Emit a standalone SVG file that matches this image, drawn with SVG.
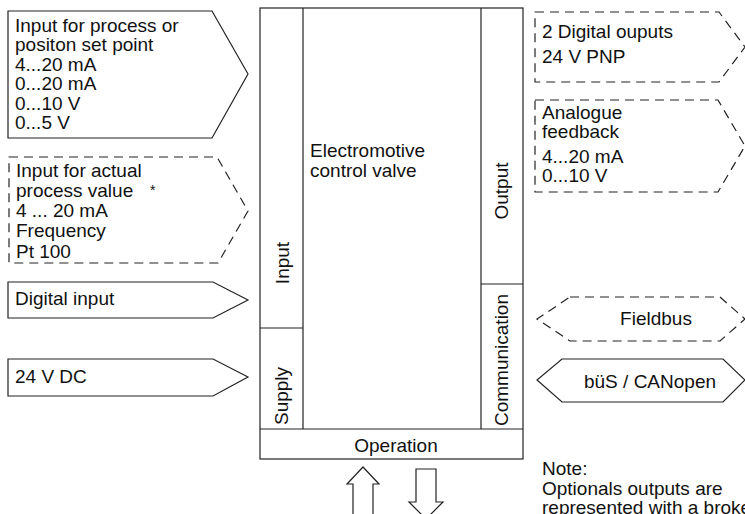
<svg xmlns="http://www.w3.org/2000/svg" width="745" height="514" viewBox="0 0 745 514">
<style>
.s{fill:#fff;stroke:#222;stroke-width:1.2;stroke-linejoin:miter}
.d{fill:none;stroke:#222;stroke-width:1.2;stroke-dasharray:9 6}
.l{fill:none;stroke:#222;stroke-width:1.2}
text{font-family:"Liberation Sans",Arial,sans-serif;font-size:19px;fill:#111}
.m{text-anchor:middle}
</style>
<rect width="745" height="514" fill="#fff"/>
<g id="valve">
<rect class="s" x="260" y="8" width="263" height="451"/>
<line class="l" x1="303" y1="8" x2="303" y2="429"/>
<line class="l" x1="481" y1="8" x2="481" y2="429"/>
<line class="l" x1="260" y1="429" x2="523" y2="429"/>
<line class="l" x1="260" y1="328" x2="303" y2="328"/>
<line class="l" x1="481" y1="284" x2="523" y2="284"/>
<text x="310" y="157">Electromotive</text>
<text x="310" y="177">control valve</text>
<text class="m" transform="translate(289,263) rotate(-90)">Input</text>
<text class="m" transform="translate(288,396) rotate(-90)">Supply</text>
<text class="m" transform="translate(508,191) rotate(-90)">Output</text>
<text class="m" transform="translate(508,360) rotate(-90)">Communication</text>
<text class="m" x="396" y="452">Operation</text>
</g>
<g id="in-setpoint">
<polygon class="s" points="8,11 212,11 248,74 212,138 8,138"/>
<text x="15" y="32">Input for process or</text>
<text x="15" y="51">positon set point</text>
<text x="15" y="71">4...20 mA</text>
<text x="15" y="90">0...20 mA</text>
<text x="15" y="110">0...10 V</text>
<text x="15" y="129">0...5 V</text>
</g>
<g id="in-actual">
<polygon class="d" points="9,157 217,157 248,211 218,263 9,263"/>
<text x="16" y="177">Input for actual</text>
<text x="16" y="197">process value</text>
<text x="150" y="195" style="font-size:14px">*</text>
<text x="16" y="217">4 ... 20 mA</text>
<text x="16" y="237">Frequency</text>
<text x="16" y="258">Pt 100</text>
</g>
<g id="in-digital">
<polygon class="s" points="8,282 213,282 248,300 213,318 8,318"/>
<text x="15" y="305">Digital input</text>
</g>
<g id="in-supply">
<polygon class="s" points="8,359 213,359 248,377 213,396 8,396"/>
<text x="15" y="383">24 V DC</text>
</g>
<g id="out-digital">
<polygon class="d" points="535,12 719,12 745,47 719,82 535,82"/>
<text x="542" y="38">2 Digital ouputs</text>
<text x="542" y="63">24 V PNP</text>
</g>
<g id="out-analogue">
<polygon class="d" points="535,100 718,100 745,146 718,192 535,192"/>
<text x="542" y="119">Analogue</text>
<text x="542" y="138">feedback</text>
<text x="542" y="163">4...20 mA</text>
<text x="542" y="182">0...10 V</text>
</g>
<g id="fieldbus">
<polygon class="d" points="570,297 720,297 745,319 720,341 570,341 537,319"/>
<text class="m" x="656" y="325">Fieldbus</text>
</g>
<g id="bus">
<polygon class="s" points="562,359 723,359 745,380 723,402 562,402 537,380"/>
<text class="m" x="650" y="388">büS / CANopen</text>
</g>
<g id="connectors">
<polygon class="s" points="363,467 379,484 373,484 373,520 353,520 353,484 347,484"/>
<polygon class="s" points="416,469 436,469 436,502 443,502 426,519 409,502 416,502"/>
</g>
<g id="note">
<text x="542" y="475">Note:</text>
<text x="542" y="495">Optionals outputs are</text>
<text x="542" y="514">represented with a broke</text>
</g>
</svg>
